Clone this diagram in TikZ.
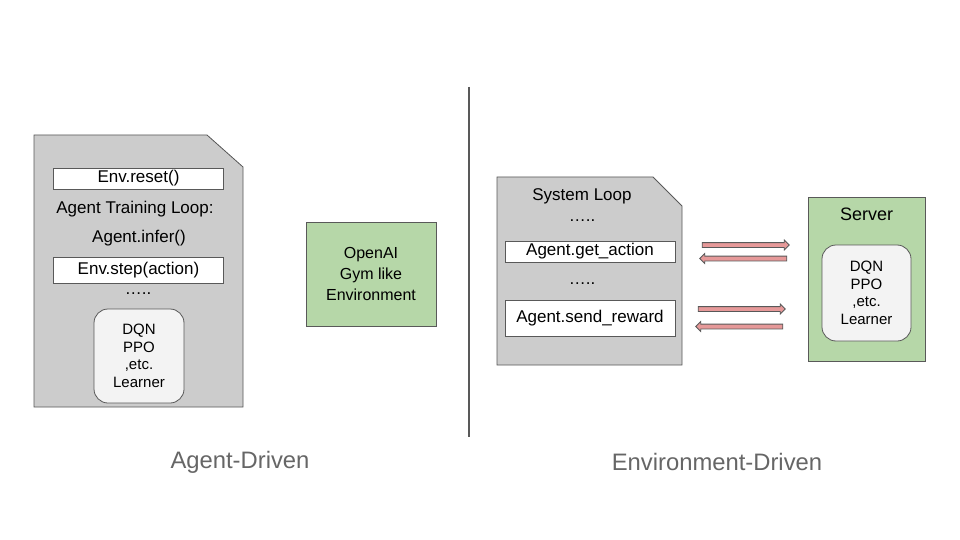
\documentclass[tikz,border=0pt]{standalone}
\usepackage{fontspec}
\setmainfont{Liberation Sans}
\usetikzlibrary{shapes.arrows}

\definecolor{docgrey}{HTML}{CCCCCC}
\definecolor{edgegrey}{HTML}{595959}
\definecolor{envgreen}{HTML}{B6D7A8}
\definecolor{learnfill}{HTML}{F3F3F3}
\definecolor{msgred}{HTML}{E69999}
\definecolor{capgrey}{HTML}{666666}

\tikzset{
  doc/.style={draw=edgegrey, fill=docgrey, line width=0.8pt},
  codetext/.style={inner sep=0pt, font=\fontsize{17}{19}\selectfont},
  call/.style={codetext, draw=edgegrey, fill=white, line width=0.8pt, minimum width=170pt},
  learner/.style={draw=edgegrey, fill=learnfill, line width=0.8pt, rounded corners=14pt, align=center, inner sep=0pt, font=\fontsize{15}{17.5}\selectfont},
  envbox/.style={draw=edgegrey, fill=envgreen, line width=0.8pt},
  msg/.style={single arrow, draw=edgegrey, fill=msgred, line width=0.8pt, minimum height=87pt, minimum width=9pt, single arrow head extend=2.5pt, inner sep=2pt},
  sidetitle/.style={text=capgrey, font=\fontsize{23.8}{28}\selectfont}
}

\begin{document}
\begin{tikzpicture}[x=1pt, y=-1pt]

\fill[white] (0,0) rectangle (960,540);
\useasboundingbox (0,0) rectangle (960,540);

\draw[doc] (34,135) -- (207,135) -- (243,167) -- (243,407) -- (34,407) -- cycle;
\node[call, minimum height=21pt] (reset) at (138.5,178.5) {Env.reset()};
\node[codetext] (loop) at (135,209) {Agent Training Loop:};
\node[codetext] (infer) at (139,238) {Agent.infer()};
\node[call, minimum height=26pt] (step) at (138.5,270) {Env.step(action)};
\node[codetext] (dotsA) at (138,294) {…..};
\node[learner, minimum width=90pt, minimum height=94pt] (learnerA) at (139,356) {DQN\\PPO\\,etc.\\Learner};

\node[envbox, minimum width=130pt, minimum height=104pt, align=center, font=\fontsize{16}{21}\selectfont] (gym) at (371,274) {OpenAI\\Gym like\\Environment};

\draw[edgegrey, line width=2.5pt] (469,87) -- (469,437);

\draw[doc] (497,177) -- (653,177) -- (682,206) -- (682,365) -- (497,365) -- cycle;
\node[codetext] (sysloop) at (582,196) {System Loop};
\node[codetext] (dotsB) at (582,221) {…..};
\node[call, minimum height=21pt] (getact) at (590,251.5) {Agent.get\_action};
\node[codetext] (dotsC) at (582,284) {…..};
\node[call, minimum height=36pt] (sendrew) at (590,318) {Agent.send\_reward};

\node[envbox, minimum width=117pt, minimum height=164pt] (server) at (866.5,279) {};
\node[font=\fontsize{18}{21}\selectfont] (servertitle) at (866.5,214) {Server};
\node[learner, minimum width=89pt, minimum height=96pt] (learnerB) at (866.5,293) {DQN\\PPO\\,etc.\\Learner};

\node[msg] (askA) at (744.5,245) {};
\node[msg, shape border rotate=180] (ansA) at (744.5,258.5) {};
\node[msg] (askB) at (740.5,309) {};
\node[msg, shape border rotate=180] (ansB) at (740.5,326.5) {};

\node[sidetitle] (agentside) at (240,462) {Agent-Driven};
\node[sidetitle] (envside) at (717,462) {Environment-Driven};

\end{tikzpicture}
\end{document}
